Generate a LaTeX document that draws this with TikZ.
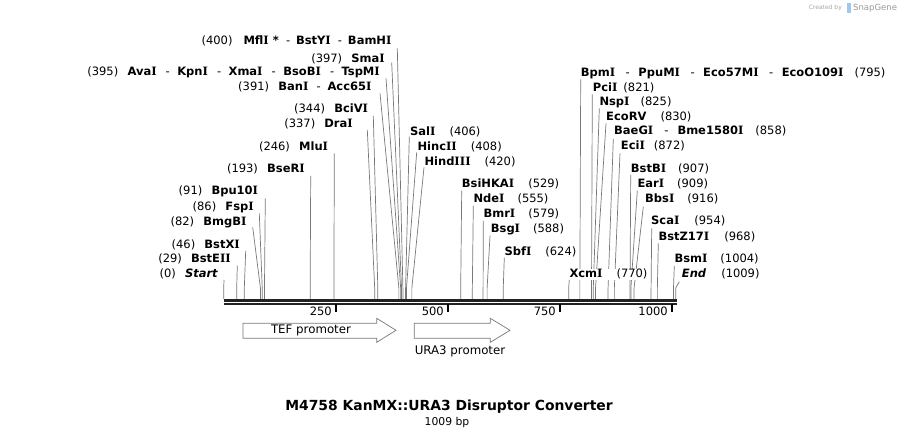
\documentclass[tikz,border=0pt]{standalone}
\usepackage{fontspec}
\setmainfont{DejaVu Sans}
\newfontfamily\serifIfont{DejaVu Serif}
\definecolor{linegray}{RGB}{120,120,120}
\definecolor{axisblack}{RGB}{34,34,34}
\definecolor{sgblue}{RGB}{160,200,235}
\newcommand\cutsite[4]{%
  \coordinate (#1a) at ({223.7+0.448*#2},299);
  \coordinate (#1b) at ({223.7+0.448*#2},288);
  \coordinate (#1t) at (#3,#4);
  \draw[siteline] (#1a) -- (#1b) -- (#1t);}
\newcommand\Ii{{\serifIfont\bfseries I}}
\newcommand\lsp{\hspace{0.8em}}
\newcommand\ds[1]{\hspace{\dimexpr #1pt*55/100\relax}-\hspace{\dimexpr #1pt*45/100\relax}}
\newcommand\gp[1]{\hspace{#1pt}}
\begin{document}
\begin{tikzpicture}[x=1pt,y=-1pt,
  siteline/.style={draw=linegray, line width=0.7pt},
  lbl/.style={font=\fontsize{11.5}{13}\selectfont, inner sep=0pt, fill=white, text height=8.5pt, text depth=2.5pt},
  lleft/.style={lbl, anchor=east},
  lright/.style={lbl, anchor=west},
  ticklbl/.style={font=\fontsize{11.5}{13}\selectfont, inner sep=0pt, anchor=east},
  tickmark/.style={draw=black, line width=1.8pt},
  feature/.style={draw=linegray, fill=white, line width=0.7pt},
  featlbl/.style={font=\fontsize{11.8}{14}\selectfont, inner sep=0pt}]
\useasboundingbox (0,0) rectangle (902,438);
\fill[white] (0,0) rectangle (902,438);

% ---- cut site lines ----
\cutsite{s400}{400}{397.3}{48.3}
\cutsite{s397}{397}{391.7}{62.7}
\cutsite{s395}{395}{386}{78.3}
\cutsite{s391}{391}{380}{93.3}
\cutsite{s344}{344}{373.3}{116}
\cutsite{s337}{337}{367.3}{130}
\cutsite{s246}{246}{334.3}{153.3}
\cutsite{s193}{193}{310.7}{176}
\cutsite{s91}{91}{265.3}{198.3}
\cutsite{s86}{86}{259.3}{213.3}
\cutsite{s82}{82}{252.7}{227.3}
\cutsite{s46}{46}{245.7}{251}
\cutsite{s29}{29}{237.3}{265.7}
\cutsite{s0}{0}{224}{280}
\cutsite{s406}{406}{409.3}{136.7}
\cutsite{s408}{408}{416.7}{152.3}
\cutsite{s420}{420}{424}{167.3}
\cutsite{s529}{529}{461.7}{190.7}
\cutsite{s555}{555}{473.3}{205.7}
\cutsite{s579}{579}{483.3}{221}
\cutsite{s588}{588}{490}{235.7}
\cutsite{s624}{624}{504.3}{257.7}
\cutsite{s770}{770}{569.3}{280}
\cutsite{s795}{795}{580.7}{79.3}
\cutsite{s821}{821}{592.3}{94.3}
\cutsite{s825}{825}{599.3}{108.3}
\cutsite{s830}{830}{606}{123.3}
\cutsite{s858}{858}{613.3}{139}
\cutsite{s872}{872}{620}{153.3}
\cutsite{s907}{907}{630.7}{175}
\cutsite{s909}{909}{637.3}{190.7}
\cutsite{s916}{916}{643.3}{206.7}
\cutsite{s954}{954}{651.7}{228.3}
\cutsite{s968}{968}{658.3}{243.3}
\cutsite{s1004}{1004}{674.3}{266}
\cutsite{s1009}{1009}{679.3}{281.7}

% ---- left labels ----
\node[lleft] (n400) at (391.7,42) {(400)\gp{11}\textbf{Mfl\Ii\ *}\ds{13}\textbf{BstY\Ii}\ds{13}\textbf{BamH\Ii}};
\node[lleft] (n397) at (385,59.3) {(397)\lsp\textbf{Sma\Ii}};
\node[lleft] (n395) at (380,72.3) {(395)\lsp\textbf{Ava\Ii}\ds{16.5}\textbf{Kpn\Ii}\ds{16.5}\textbf{Xma\Ii}\ds{16.5}\textbf{BsoB\Ii}\ds{16.5}\textbf{TspM\Ii}};
\node[lleft] (n391) at (371.7,87.3) {(391)\lsp\textbf{Ban\Ii}\ds{15}\textbf{Acc65\Ii}};
\node[lleft] (n344) at (368.3,110) {(344)\lsp\textbf{BciV\Ii}};
\node[lleft] (n337) at (353,124.5) {(337)\lsp\textbf{Dra\Ii}};
\node[lleft] (n246) at (328.3,147.3) {(246)\lsp\textbf{Mlu\Ii}};
\node[lleft] (n193) at (305,170) {(193)\lsp\textbf{BseR\Ii}};
\node[lleft] (n91) at (258.3,191.7) {(91)\lsp\textbf{Bpu10\Ii}};
\node[lleft] (n86) at (254,207.3) {(86)\lsp\textbf{Fsp\Ii}};
\node[lleft] (n82) at (246.7,222.7) {(82)\lsp\textbf{BmgB\Ii}};
\node[lleft] (n46) at (240,245.3) {(46)\lsp\textbf{BstX\Ii}};
\node[lleft] (n29) at (231,260) {(29)\lsp\textbf{BstE\Ii\Ii}};
\node[lleft] (n0) at (218.3,275) {(0)\lsp\textbf{\itshape Start}};

% ---- right labels ----
\node[lright] (n406) at (410,132.3) {\textbf{Sal\Ii}\gp{14}(406)};
\node[lright] (n408) at (417.3,147.3) {\textbf{Hinc\Ii\Ii}\gp{14}(408)};
\node[lright] (n420) at (424.3,162.3) {\textbf{Hind\Ii\Ii\Ii}\gp{14}(420)};
\node[lright] (n529) at (461.7,185) {\textbf{BsiHKA\Ii}\gp{14}(529)};
\node[lright] (n555) at (473.3,200) {\textbf{Nde\Ii}\gp{13}(555)};
\node[lright] (n579) at (483.3,215) {\textbf{Bmr\Ii}\gp{13}(579)};
\node[lright] (n588) at (490.7,229.3) {\textbf{Bsg\Ii}\gp{13}(588)};
\node[lright] (n624) at (504.3,252.3) {\textbf{Sbf\Ii}\gp{14}(624)};
\node[lright] (n770) at (569.3,275) {\textbf{Xcm\Ii}\gp{14}(770)};
\node[lright] (n795) at (580.7,73.3) {\textbf{Bpm\Ii}\ds{19}\textbf{PpuM\Ii}\ds{19}\textbf{Eco57M\Ii}\ds{19}\textbf{EcoO109\Ii}\gp{11}(795)};
\node[lright] (n821) at (592.7,88.3) {\textbf{Pci\Ii}\gp{6}(821)};
\node[lright] (n825) at (599.3,102.7) {\textbf{Nsp\Ii}\gp{11}(825)};
\node[lright] (n830) at (606,117.3) {\textbf{EcoRV}\gp{14}(830)};
\node[lright] (n858) at (614,131.7) {\textbf{BaeG\Ii}\ds{20}\textbf{Bme1580\Ii}\gp{12}(858)};
\node[lright] (n872) at (620.7,146.7) {\textbf{Eci\Ii}\gp{9}(872)};
\node[lright] (n907) at (630.7,170) {\textbf{BstB\Ii}\gp{12}(907)};
\node[lright] (n909) at (637.3,185) {\textbf{Ear\Ii}\gp{13}(909)};
\node[lright] (n916) at (645,200) {\textbf{Bbs\Ii}\gp{13}(916)};
\node[lright] (n954) at (651,221.7) {\textbf{Sca\Ii}\gp{15}(954)};
\node[lright] (n968) at (658.3,237.3) {\textbf{BstZ17\Ii}\gp{15}(968)};
\node[lright] (n1004) at (674.3,259.3) {\textbf{Bsm\Ii}\gp{13}(1004)};
\node[lright] (n1009) at (681.7,275) {\textbf{\itshape End}\gp{15}(1009)};

% ---- axis ----
\coordinate (axL1) at (224,300.6);
\coordinate (axR1) at (677,300.6);
\coordinate (axL2) at (224,304);
\coordinate (axR2) at (677,304);
\draw[axisblack, line width=2.7pt] (axL1) -- (axR1);
\draw[axisblack, line width=1.4pt] (axL2) -- (axR2);
\foreach \p/\t in {250/250,500/500,750/750,1000/1000}{
  \coordinate (tk\p) at ({223.7+0.448*\p},304);
  \draw[tickmark] (tk\p) -- ++(0,8);
  \node[ticklbl] (tl\p) at ({223.7+0.448*\p-3.8},311.5) {\t};
}

% ---- features ----
\draw[feature] (243,323.3) -- (376.7,323.3) -- (376.7,318.3) -- (396,330.3) -- (376.7,342.3) -- (376.7,338.3) -- (243,338.3) -- cycle;
\node[featlbl] (tef) at (311,330) {TEF promoter};
\draw[feature] (414.3,323.3) -- (490.3,323.3) -- (490.3,318.3) -- (510,330.3) -- (490.3,342.3) -- (490.3,338.3) -- (414.3,338.3) -- cycle;
\node[featlbl] (ura) at (460,351.5) {URA3 promoter};

% ---- title ----
\node[font=\fontsize{13.9}{16}\selectfont\bfseries, inner sep=0pt] (title) at (449,407) {M4758 KanMX::URA3 Disruptor Converter};
\node[font=\fontsize{10.8}{12}\selectfont, inner sep=0pt] (bp) at (447,423) {1009 bp};

% ---- watermark ----
\node[font=\fontsize{6}{7}\selectfont, text=black!35, inner sep=0pt, anchor=east] (cby) at (842,8) {Created by};
\fill[sgblue] (846.5,3) rectangle (850.5,13);
\node[font=\fontsize{8.5}{10}\selectfont, text=black!40, inner sep=0pt, anchor=west] (sg) at (853,8) {SnapGene};
\end{tikzpicture}
\end{document}
